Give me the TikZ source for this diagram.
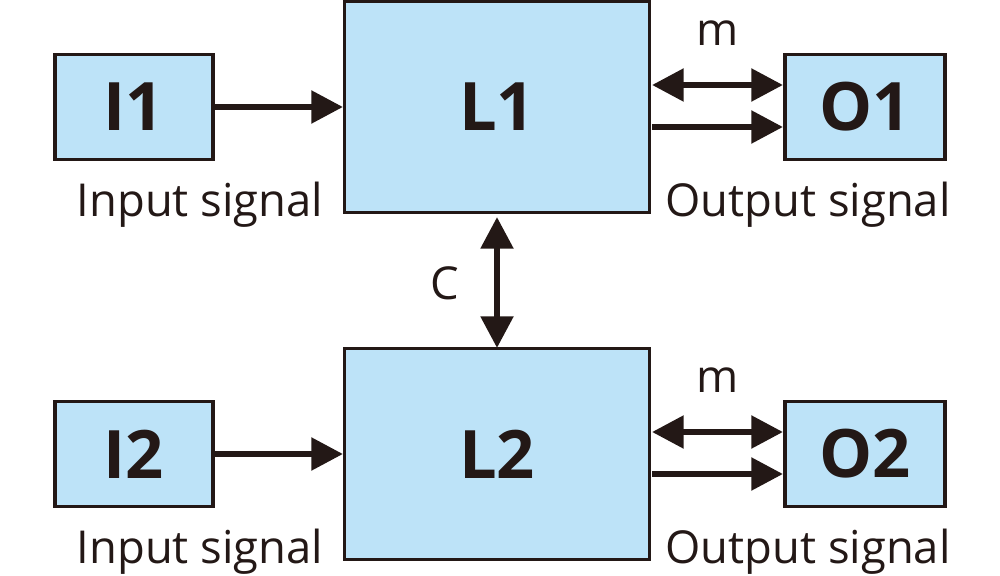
\documentclass[tikz,border=0pt]{standalone}
\usepackage{fontspec}
\setmainfont{Open Sans}
\usetikzlibrary{arrows.meta}
\definecolor{fillc}{HTML}{BDE3F8}
\definecolor{ink}{HTML}{231816}
\begin{document}
\begin{tikzpicture}[x=0.01cm,y=-0.01cm,
  box/.style={draw=ink,fill=fillc,line width=0.9pt,font=\bfseries\fontsize{19}{20}\selectfont,text=ink},
  lab/.style={font=\fontsize{12.9}{15}\selectfont,text=ink},
  arr/.style={draw=ink,line width=1.8pt,-{Triangle[length=9pt,width=9pt]}},
  darr/.style={draw=ink,line width=1.8pt,{Triangle[length=9pt,width=9pt]}-{Triangle[length=9pt,width=9pt]}}]
\useasboundingbox (0,0) rectangle (1000,576);
\foreach \n/\yo in {1/0,2/347}{
  \node[box,minimum width=158*0.01cm,minimum height=105*0.01cm] (I\n) at (134,107+\yo) {I\n};
  \node[box,minimum width=305*0.01cm,minimum height=211*0.01cm] (L\n) at (497,107+\yo) {L\n};
  \node[box,minimum width=160*0.01cm,minimum height=105*0.01cm] (O\n) at (865,107+\yo) {O\n};
  \node[lab] (in\n) at (200,205+\yo) {Input signal};
  \node[lab] (out\n) at (808,205+\yo) {Output signal};
  \node[lab] (m\n) at (718,33+\yo) {m};
  \coordinate (a\n) at (213,107+\yo); \coordinate (b\n) at (343,107+\yo);
  \draw[arr] (a\n) -- (b\n);
  \coordinate (c\n) at (652,85+\yo); \coordinate (d\n) at (783,85+\yo);
  \draw[darr] (c\n) -- (d\n);
  \coordinate (e\n) at (652,127+\yo); \coordinate (f\n) at (783,127+\yo);
  \draw[arr] (e\n) -- (f\n);
}
\node[lab] (C) at (445,283) {C};
\coordinate (g) at (497,217);
\coordinate (h) at (497,348);
\draw[darr] (g) -- (h);
\end{tikzpicture}
\end{document}
